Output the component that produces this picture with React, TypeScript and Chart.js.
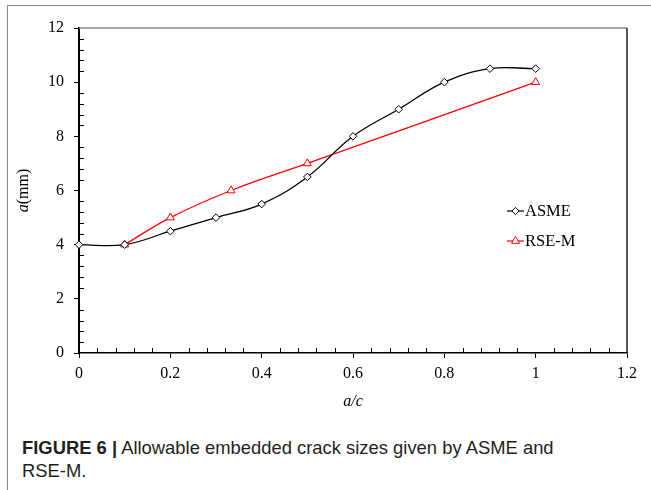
import React, { useEffect, useRef } from "react";
import { Chart, registerables } from "chart.js";

Chart.register(...registerables);

// ---- data ----
const asmeX = [0, 0.1, 0.2, 0.3, 0.4, 0.5, 0.6, 0.7, 0.8, 0.9, 1.0];
const asmeY = [4, 4, 4.5, 5, 5.5, 6.5, 8, 9, 10, 10.5, 10.5];
const rseX = [0.1, 0.2, 0.333, 0.5, 1.0];
const rseY = [4, 5, 6, 7, 10];
const xTicks = [0, 0.2, 0.4, 0.6, 0.8, 1, 1.2];
const xTickLabels = ["0", "0.2", "0.4", "0.6", "0.8", "1", "1.2"];
const yTicks = [0, 2, 4, 6, 8, 10, 12];
const yTickLabels = ["0", "2", "4", "6", "8", "10", "12"];
const seriesNames = ["ASME", "RSE-M"];
const xTitle = "a/c";
const captionBold = "FIGURE 6 |";
const captionText = " Allowable embedded crack sizes given by ASME and";
const captionText2 = "RSE-M.";

const SERIF = "'Liberation Serif', 'Times New Roman', serif";

function diamond(ctx: CanvasRenderingContext2D, x: number, y: number, r: number) {
  ctx.beginPath();
  ctx.moveTo(x, y - r);
  ctx.lineTo(x + r, y);
  ctx.lineTo(x, y + r);
  ctx.lineTo(x - r, y);
  ctx.closePath();
  ctx.fillStyle = "#fff";
  ctx.fill();
  ctx.stroke();
}
function triangle(ctx: CanvasRenderingContext2D, x: number, y: number, r: number) {
  const h = r * 1.5;
  const w = r * 0.866;
  ctx.beginPath();
  ctx.moveTo(x, y - h * 2 / 3);
  ctx.lineTo(x + w, y + h / 3);
  ctx.lineTo(x - w, y + h / 3);
  ctx.closePath();
  ctx.fillStyle = "#fff";
  ctx.fill();
  ctx.stroke();
}

const decorPlugin = {
  id: "decor",
  afterDraw(chart: any) {
    const ctx = chart.ctx as CanvasRenderingContext2D;
    const { left, right, top, bottom } = chart.chartArea;
    const xs = chart.scales.x;
    const ys = chart.scales.y;
    ctx.save();
    // top & right borders
    ctx.lineWidth = 1.5;
    ctx.strokeStyle = "#8a8a8a";
    ctx.beginPath();
    ctx.moveTo(left, top);
    ctx.lineTo(right, top);
    ctx.stroke();
    ctx.strokeStyle = "#222";
    ctx.beginPath();
    ctx.moveTo(right, top);
    ctx.lineTo(right, bottom);
    ctx.stroke();
    // minor ticks (inside)
    ctx.strokeStyle = "#000";
    ctx.lineWidth = 1;
    for (let i = 0; i <= 30; i++) {
      if (i % 5 === 0) continue;
      const px = Math.round(xs.getPixelForValue(i * 0.04)) + 0.5;
      ctx.beginPath();
      ctx.moveTo(px, bottom);
      ctx.lineTo(px, bottom - 5);
      ctx.stroke();
    }
    for (let i = 0; i <= 30; i++) {
      if (i % 5 === 0) continue;
      const py = Math.round(ys.getPixelForValue(i * 0.4)) + 0.5;
      ctx.beginPath();
      ctx.moveTo(left, py);
      ctx.lineTo(left + 5, py);
      ctx.stroke();
    }
    // x title
    ctx.fillStyle = "#000";
    ctx.font = `italic 16px ${SERIF}`;
    ctx.textAlign = "center";
    ctx.textBaseline = "middle";
    ctx.fillText(xTitle, (left + right) / 2, 402);
    // y title
    ctx.save();
    ctx.translate(24, (top + bottom) / 2);
    ctx.rotate(-Math.PI / 2);
    ctx.font = `italic 16px ${SERIF}`;
    const wa = ctx.measureText("a").width;
    ctx.font = `16px ${SERIF}`;
    const wm = ctx.measureText("(mm)").width;
    const start = -(wa + wm) / 2;
    ctx.textAlign = "left";
    ctx.font = `italic 16px ${SERIF}`;
    ctx.fillText("a", start, 0);
    ctx.font = `16px ${SERIF}`;
    ctx.fillText("(mm)", start + wa, 0);
    ctx.restore();
    // legend
    const legY = [211, 241];
    const colors = ["#000", "#ff0000"];
    for (let i = 0; i < 2; i++) {
      ctx.strokeStyle = colors[i];
      ctx.lineWidth = 1.2;
      ctx.beginPath();
      ctx.moveTo(507, legY[i]);
      ctx.lineTo(524, legY[i]);
      ctx.stroke();
      ctx.lineWidth = 1;
      if (i === 0) diamond(ctx, 515.5, legY[i], 3.6);
      else triangle(ctx, 515.5, legY[i], 4.6);
      ctx.fillStyle = "#000";
      ctx.font = `16.5px ${SERIF}`;
      ctx.textAlign = "left";
      ctx.textBaseline = "middle";
      ctx.fillText(seriesNames[i], 525, legY[i] + 1);
    }
    ctx.restore();
  },
};

export default function App() {
  const ref = useRef<HTMLCanvasElement | null>(null);
  useEffect(() => {
    if (!ref.current) return;
    const chart = new Chart(ref.current, {
      type: "line",
      data: {
        datasets: [
          {
            label: seriesNames[0],
            data: asmeX.map((x, i) => ({ x, y: asmeY[i] })),
            borderColor: "#000",
            borderWidth: 1.3,
            tension: 0.4,
            pointStyle: "rectRot",
            pointRadius: 3.8,
            pointBorderColor: "#000",
            pointBackgroundColor: "#fff",
            pointBorderWidth: 1,
            clip: false as any,
          },
          {
            label: seriesNames[1],
            data: rseX.map((x, i) => ({ x, y: rseY[i] })),
            borderColor: "#ff0000",
            borderWidth: 1.3,
            tension: 0.4,
            pointStyle: "triangle",
            pointRadius: 4.6,
            pointBorderColor: "#ff0000",
            pointBackgroundColor: "#fff",
            pointBorderWidth: 1,
            clip: false as any,
          },
        ],
      },
      options: {
        animation: false,
        responsive: false,
        devicePixelRatio: 1,
        layout: { padding: { left: 0, top: 28, right: 24, bottom: 0 } },
        plugins: { legend: { display: false }, tooltip: { enabled: false } },
        scales: {
          x: {
            type: "linear",
            min: 0,
            max: 1.2,
            afterBuildTicks: (s: any) => {
              s.ticks = xTicks.map((v) => ({ value: v }));
            },
            afterFit: (s: any) => {
              s.height = 77;
            },
            ticks: {
              callback: (_v: any, i: number) => xTickLabels[i],
              color: "#000",
              font: { family: SERIF, size: 16 },
              padding: 6,
              maxRotation: 0,
            },
            grid: { drawOnChartArea: false, drawTicks: true, tickLength: 5, color: "#000" },
            border: { display: true, color: "#000", width: 1.5 },
          },
          y: {
            type: "linear",
            min: 0,
            max: 12,
            afterBuildTicks: (s: any) => {
              s.ticks = yTicks.map((v) => ({ value: v }));
            },
            afterFit: (s: any) => {
              s.width = 79;
            },
            ticks: {
              callback: (_v: any, i: number) => yTickLabels[i],
              color: "#000",
              font: { family: SERIF, size: 16 },
              padding: 10,
            },
            grid: { drawOnChartArea: false, drawTicks: true, tickLength: 5, color: "#000" },
            border: { display: true, color: "#000", width: 2 },
          },
        },
      },
      plugins: [decorPlugin],
    });
    return () => chart.destroy();
  }, []);

  return (
    <div style={{ position: "absolute", left: 0, top: 0, width: 651, height: 490, background: "#fff", overflow: "hidden" }}>
      <div style={{ position: "absolute", left: 7, top: 5, right: -5, bottom: -5, borderTop: "1.5px solid #8a8a8a", borderLeft: "1.5px solid #8a8a8a" }} />
      <canvas ref={ref} width={651} height={430} style={{ position: "absolute", left: 0, top: 0, width: 651, height: 430 }} />
      <div
        style={{
          position: "absolute",
          left: 22,
          top: 436,
          fontFamily: "'Liberation Sans', Arial, sans-serif",
          fontSize: 18.4,
          lineHeight: "23px",
          color: "#231f20",
          whiteSpace: "nowrap",
        }}
      >
        <div>
          <b>{captionBold}</b>
          {captionText}
        </div>
        <div>{captionText2}</div>
      </div>
    </div>
  );
}
